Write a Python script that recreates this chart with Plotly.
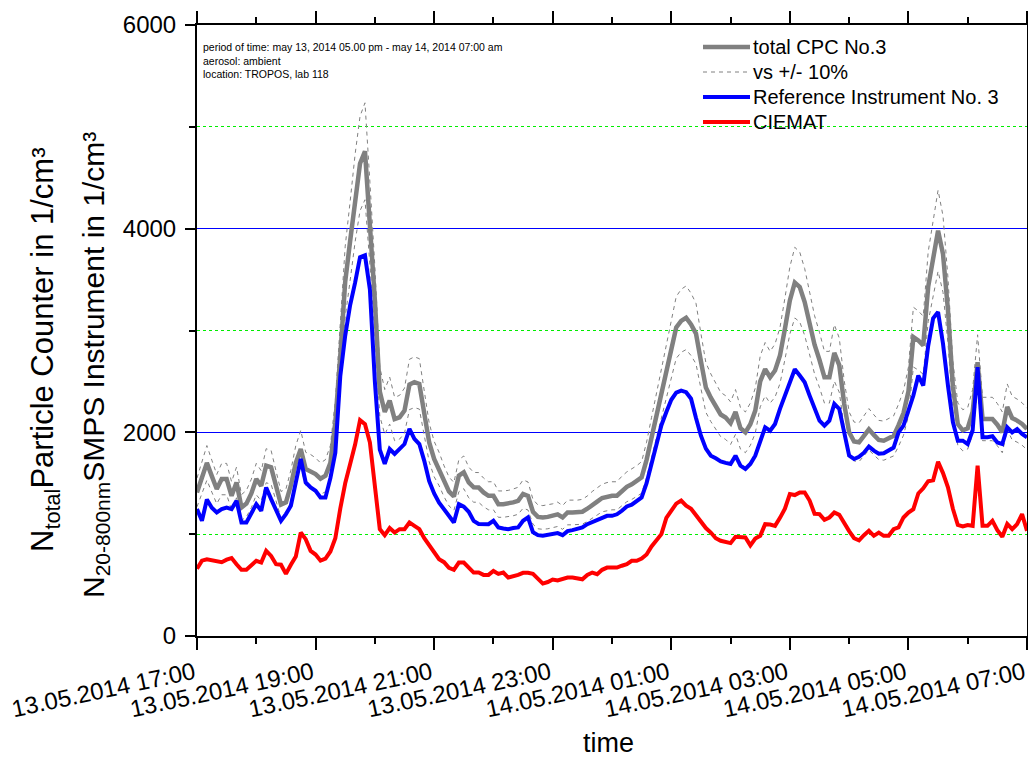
import plotly.graph_objects as go
import pandas as pd

times = pd.date_range("2014-05-13 17:00", "2014-05-14 07:00", freq="5min").strftime("%Y-%m-%d %H:%M").tolist()

total_cpc = [1410,1560,1700,1570,1443,1541,1541,1377,1508,1262,1300,1400,1541,1475,1672,1656,1470,1290,1312,1480,
             1700,1836,1640,1620,1590,1545,1574,1700,2100,2750,3480,3880,4300,4640,4760,4050,3300,2400,2200,2312,
             2131,2148,2213,2470,2492,2476,2197,1900,1738,1640,1520,1420,1370,1574,1607,1508,1460,1459,1410,1377,
             1377,1295,1295,1300,1312,1328,1394,1375,1220,1170,1164,1170,1180,1195,1164,1213,1213,1213,1220,1250,
             1290,1320,1355,1370,1377,1377,1426,1465,1490,1520,1557,1730,1950,2170,2380,2610,2830,3030,3095,3125,
             3060,2970,2700,2440,2340,2255,2175,2145,2090,2200,2040,2000,2080,2213,2500,2620,2541,2607,2754,3017,
             3295,3470,3427,3280,3060,2860,2710,2541,2541,2780,2660,2280,2000,1910,1902,1970,2030,1975,1925,1918,
             1940,1965,2070,2190,2400,2935,2902,2855,3430,3710,3980,3750,3200,2450,2080,2020,2040,2200,2689,2131,
             2131,2131,2075,2000,2250,2140,2115,2082,2033]

reference_no3 = [1246,1131,1340,1260,1213,1246,1262,1246,1328,1115,1115,1213,1295,1230,1459,1344,1230,1131,1197,1279,
                 1508,1738,1508,1459,1426,1361,1361,1550,1800,2550,2950,3250,3470,3720,3738,3400,2500,1830,1690,1836,
                 1787,1836,1885,2033,1935,1885,1720,1520,1400,1310,1240,1180,1115,1295,1270,1220,1130,1100,1098,1098,
                 1131,1066,1055,1049,1060,1066,1131,1164,1020,990,984,990,1000,1010,990,1030,1040,1055,1066,1098,
                 1120,1140,1165,1180,1180,1195,1230,1272,1290,1320,1361,1500,1690,1890,2070,2200,2320,2390,2410,2394,
                 2330,2140,1967,1840,1771,1745,1715,1700,1689,1771,1672,1640,1689,1771,1918,2049,2016,2082,2230,2361,
                 2492,2620,2558,2492,2361,2230,2115,2066,2115,2279,2230,2000,1771,1738,1760,1800,1860,1820,1790,1795,
                 1820,1850,2000,2066,2213,2361,2558,2459,2850,3120,3181,2870,2460,2100,1918,1918,1885,2020,2640,1951,
                 1951,1961,1900,1885,2049,2000,2033,1984,1951]

ciemat = [660,740,754,745,738,725,750,765,705,650,650,700,738,721,836,787,705,700,610,700,
          780,1016,951,836,800,740,760,830,960,1250,1500,1690,1880,2120,2080,1900,1500,1050,990,1060,
          1016,1049,1049,1115,1082,1049,960,890,830,754,725,670,650,721,721,672,623,623,600,600,
          639,610,623,574,585,600,620,620,610,557,515,530,555,545,560,574,574,570,557,600,
          623,607,650,672,672,672,690,705,738,738,760,800,880,940,1000,1160,1230,1300,1330,1280,
          1250,1190,1130,1060,1016,960,935,925,912,975,967,967,890,957,984,1098,1095,1082,1160,1250,
          1394,1384,1410,1410,1330,1200,1197,1141,1164,1213,1190,1100,1030,960,940,990,1033,984,1016,984,
          984,1049,1066,1164,1213,1246,1400,1450,1520,1530,1710,1600,1460,1250,1090,1075,1090,1082,1672,1082,
          1082,1131,1040,975,1100,1049,1098,1197,1033]

band = 0.10
upper = [v * (1 + band) for v in total_cpc]
lower = [v * (1 - band) for v in total_cpc]

legend_names = ["total CPC No.3", "vs +/- 10%", "Reference Instrument No. 3", "CIEMAT"]
info_lines = ["period of time: may 13, 2014 05.00 pm - may 14, 2014 07:00 am",
              "aerosol: ambient", "location: TROPOS, lab 118"]

FONT = "Liberation Sans, Arial, sans-serif"
GRAY = "#808080"

fig = go.Figure()
for arr in (upper, lower):
    fig.add_trace(go.Scatter(x=times, y=arr, mode="lines", showlegend=False,
                             line=dict(color=GRAY, width=1, dash="4px,4px")))
fig.add_trace(go.Scatter(x=times, y=total_cpc, mode="lines", name=legend_names[0], showlegend=False,
                         line=dict(color=GRAY, width=4.5)))
fig.add_trace(go.Scatter(x=times, y=reference_no3, mode="lines", name=legend_names[2], showlegend=False,
                         line=dict(color="#0000ff", width=4)))
fig.add_trace(go.Scatter(x=times, y=ciemat, mode="lines", name=legend_names[3], showlegend=False,
                         line=dict(color="#ff0000", width=4)))

W0, W = 197, 830
H0, H = 636, 611
def px(x): return (x - W0) / W
def py(y): return (H0 - y) / H

# manual legend
leg_styles = [dict(color=GRAY, width=4.5), dict(color=GRAY, width=1, dash="4px,4px"),
              dict(color="#0000ff", width=4), dict(color="#ff0000", width=4)]
leg_y = [47, 72, 97, 122]
for name, st, yy in zip(legend_names, leg_styles, leg_y):
    fig.add_shape(type="line", xref="paper", yref="paper", x0=px(703), x1=px(750),
                  y0=py(yy), y1=py(yy), line=st)
    fig.add_annotation(xref="paper", yref="paper", x=px(751), y=py(yy), text=name,
                       showarrow=False, xanchor="left", yanchor="middle",
                       font=dict(family=FONT, size=20, color="black"))

fig.add_annotation(xref="paper", yref="paper", x=px(201), y=py(61), text="<br>".join(info_lines),
                   showarrow=False, xanchor="left", yanchor="middle", align="left",
                   font=dict(family=FONT, size=10.5, color="black"))

fig.add_annotation(xref="paper", yref="paper", x=px(45), y=py(350), textangle=-90,
                   text="N<sub>total</sub>Particle Counter in 1/cm³", showarrow=False,
                   xanchor="center", yanchor="middle", font=dict(family=FONT, size=31, color="black"))
fig.add_annotation(xref="paper", yref="paper", x=px(95), y=py(365), textangle=-90,
                   text="N<sub>20-800nm</sub>SMPS Instrument in 1/cm³", showarrow=False,
                   xanchor="center", yanchor="middle", font=dict(family=FONT, size=30, color="black"))
fig.add_annotation(xref="paper", yref="paper", x=px(608), y=py(743), text="time", showarrow=False,
                   xanchor="center", yanchor="middle", font=dict(family=FONT, size=27, color="black"))

fig.update_xaxes(type="date", range=["2014-05-13 17:00", "2014-05-14 07:00"],
                 tick0="2014-05-13 17:00", dtick=7200000, tickformat="%d.%m.%Y %H:%M",
                 tickangle=-12, ticks="outside", ticklen=12, tickwidth=2, tickcolor="black",
                 showline=True, linecolor="black", linewidth=2, mirror="ticks", showgrid=False,
                 zeroline=False, automargin=False, ticklabeloverflow="allow", ticklabelshift=-3,
                 tickfont=dict(family=FONT, size=24, color="black"),
                 minor=dict(dtick=3600000, ticks="outside", ticklen=6, tickwidth=2,
                            tickcolor="black", showgrid=False))
fig.update_yaxes(range=[0, 6000], tick0=0, dtick=2000, ticks="outside", ticklen=10, tickwidth=2,
                 tickcolor="black", showline=True, linecolor="black", linewidth=2, mirror="ticks",
                 showgrid=True, gridcolor="#0000ff", gridwidth=1, zeroline=False, automargin=False,
                 tickfont=dict(family=FONT, size=24, color="black"), ticklabelstandoff=4,
                 minor=dict(dtick=1000, ticks="outside", ticklen=6, tickwidth=2, tickcolor="black",
                            showgrid=True, gridcolor="#00ee00", griddash="dot", gridwidth=1))

fig.update_layout(width=1028, height=760, margin=dict(l=197, r=1, t=25, b=124),
                  plot_bgcolor="white", paper_bgcolor="white", showlegend=False)

fig.write_html("out.html")
